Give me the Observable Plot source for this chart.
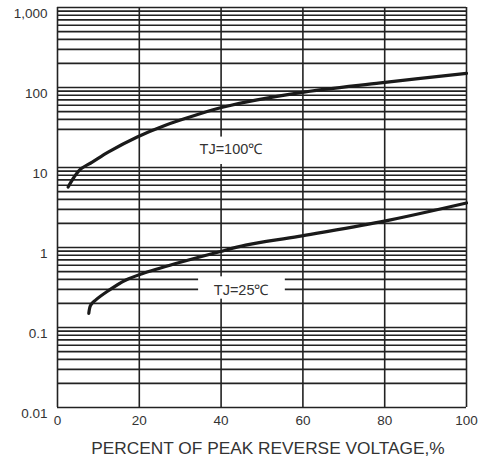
<!DOCTYPE html>
<html>
<head>
<meta charset="utf-8">
<script src="https://cdn.jsdelivr.net/npm/d3@7"></script>
<script src="https://cdn.jsdelivr.net/npm/@observablehq/plot@0.6"></script>
<style>
  html, body { margin: 0; padding: 0; background: #fff; }
  #chart svg { display: block; }
</style>
</head>
<body>
<div id="chart"></div>
<script>
// ---- data ----
const xTicks = [0, 20, 40, 60, 80, 100];
const yTicks = [0.01, 0.1, 1, 10, 100, 1000];
const yTickLabels = ["0.01", "0.1", "1", "10", "100", "1,000"];
const xLabel = "PERCENT OF PEAK REVERSE VOLTAGE,%";

// TJ = 100 °C curve
const hotX = [2.6, 4.0, 5.6, 8.5, 12.5, 19.5, 26.4, 33.7, 40.6, 59, 79, 100];
const hotY = [5.7, 7.5, 9.5, 11.7, 15.7, 24.1, 33.8, 45, 57, 85.6, 114, 150];
// TJ = 25 °C curve
const coldX = [7.65, 8.1, 9.3, 12.5, 16.6, 20.7, 28.9, 39.4, 46, 59, 79, 100];
const coldY = [0.15, 0.19, 0.22, 0.29, 0.39, 0.47, 0.63, 0.88, 1.07, 1.38, 2.09, 3.6];

const labels = ["TJ=100\u2103", "TJ=25\u2103"];

// log grid (the 20 line is absent in the original)
const gridY = [];
for (const d of [0.01, 0.1, 1, 10, 100]) {
  for (let m = 1; m <= 9; m++) {
    const v = +(d * m).toPrecision(3);
    if (v !== 20) gridY.push(v);
  }
}
gridY.push(1000);

const hot = hotX.map((x, i) => ({x, y: hotY[i]}));
const cold = coldX.map((x, i) => ({x, y: coldY[i]}));

const ink = "#222";
const chart = Plot.plot({
  width: 483,
  height: 465,
  marginLeft: 57,
  marginRight: 17,
  marginTop: 7,
  marginBottom: 58,
  style: {fontFamily: "'Liberation Sans', Arial, sans-serif", fontSize: "13px", color: "#333", background: "#fff"},
  x: {domain: [0, 100], axis: null},
  y: {type: "log", domain: [0.01, 1000], axis: null},
  marks: [
    Plot.ruleY(gridY, {stroke: ink, strokeWidth: 1.6}),
    Plot.ruleX(xTicks, {stroke: ink, strokeWidth: 1.6}),
    // white boxes behind the curve labels
    Plot.rect([labels[0]], {x1: 34, x2: 52, y1: 10.9, y2: 24, fill: "white"}),
    Plot.rect([labels[1]], {x1: 34.5, x2: 55.7, y1: 0.226, y2: 0.43, fill: "white"}),
    Plot.line(hot, {x: "x", y: "y", curve: "catmull-rom", stroke: "#1a1a1a", strokeWidth: 3.2, strokeLinecap: "round"}),
    Plot.line(cold, {x: "x", y: "y", curve: "catmull-rom", stroke: "#1a1a1a", strokeWidth: 3.2, strokeLinecap: "round"}),
    Plot.text([labels[0]], {x: () => 42.4, y: () => 16.8, text: d => d, fontSize: 14.5, fill: "#333"}),
    Plot.text([labels[1]], {x: () => 44.9, y: () => 0.29, text: d => d, fontSize: 14.5, fill: "#333"}),
    Plot.axisY(yTicks, {tickSize: 0, tickPadding: 10, dy: 6, tickFormat: (d) => yTickLabels[yTicks.indexOf(d)], fontSize: 13.5, label: null}),
    Plot.axisX(xTicks, {tickSize: 0, tickPadding: 8, fontSize: 13.5, label: null}),
    Plot.text([xLabel], {frameAnchor: "bottom", dy: 46, dx: 6, text: d => d, fontSize: 17.3, fill: "#333"})
  ]
});
document.getElementById("chart").appendChild(chart);
</script>
</body>
</html>
